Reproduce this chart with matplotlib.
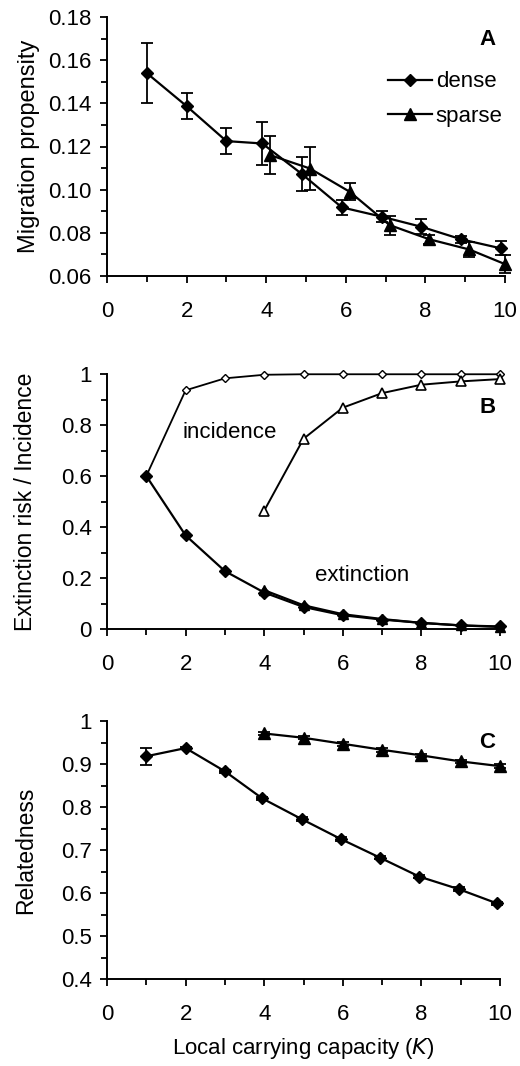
import matplotlib
matplotlib.use("Agg")
import matplotlib.pyplot as plt
from matplotlib.ticker import MultipleLocator

plt.rcParams['font.family'] = ['Liberation Sans', 'DejaVu Sans']

# ---------------- data ----------------
K = [1, 2, 3, 4, 5, 6, 7, 8, 9, 10]
K_sparse = [4, 5, 6, 7, 8, 9, 10]

# Panel A: migration propensity
A_dense_x = [1, 2, 3, 3.9, 4.9, 5.9, 6.9, 7.9, 8.9, 9.9]
A_dense = [0.154, 0.1387, 0.1225, 0.1214, 0.1072, 0.0918, 0.0875, 0.0828, 0.077, 0.0728]
A_dense_err = [0.014, 0.006, 0.006, 0.0099, 0.008, 0.0035, 0.0027, 0.0035, 0.0015, 0.0033]
A_sparse_x = [4.1, 5.1, 6.1, 7.1, 8.1, 9.1, 10.0]
A_sparse = [0.116, 0.1098, 0.099, 0.0836, 0.077, 0.0723, 0.0655]
A_sparse_err = [0.0087, 0.010, 0.004, 0.0044, 0.002, 0.0035, 0.004]

# Panel B: extinction risk / incidence
B_inc_dense = [0.600, 0.936, 0.983, 0.997, 0.999, 0.999, 0.999, 0.999, 0.999, 0.999]
B_inc_sparse = [0.464, 0.746, 0.868, 0.925, 0.958, 0.971, 0.980]
B_ext_dense = [0.600, 0.367, 0.227, 0.143, 0.0865, 0.054, 0.037, 0.024, 0.014, 0.010]
B_ext_sparse = [0.152, 0.093, 0.058, 0.039, 0.024, 0.014, 0.008]

# Panel C: relatedness
C_dense_x = [1, 2, 3, 3.95, 4.95, 5.95, 6.95, 7.95, 8.95, 9.92]
C_dense = [0.918, 0.937, 0.883, 0.820, 0.772, 0.7255, 0.682, 0.638, 0.609, 0.576]
C_dense_err = [0.02, 0.003, 0.003, 0.004, 0.004, 0.004, 0.004, 0.004, 0.004, 0.004]
C_sparse = [0.971, 0.961, 0.947, 0.933, 0.920, 0.906, 0.895]
C_sparse_err = [0.004, 0.004, 0.004, 0.004, 0.004, 0.004, 0.004]

FS = 16
fig = plt.figure(figsize=(5.2, 10.66), dpi=100)

axA = fig.add_axes([107/520, 1-276/1066, 398/520, 259/1066])
axB = fig.add_axes([107/520, 1-629/1066, 393/520, 255/1066])
axC = fig.add_axes([107/520, 1-979/1066, 393/520, 258/1066])


def style(ax, ymin, ymax, ymaj, ymin_step, fmt):
    ax.set_xlim(0, 10)
    ax.set_ylim(ymin, ymax)
    for s in ['top', 'right']:
        ax.spines[s].set_visible(False)
    for s in ['left', 'bottom']:
        ax.spines[s].set_linewidth(1.4)
    ax.xaxis.set_major_locator(MultipleLocator(2))
    ax.xaxis.set_minor_locator(MultipleLocator(1))
    ax.yaxis.set_major_locator(MultipleLocator(ymaj))
    ax.yaxis.set_minor_locator(MultipleLocator(ymin_step))
    ax.tick_params(which='major', direction='out', length=5, width=1.3, labelsize=FS)
    ax.tick_params(which='minor', direction='out', length=4, width=1.3)
    ax.tick_params(axis='x', which='major', pad=13)
    ax.tick_params(axis='y', which='major', pad=6)
    ax.yaxis.set_major_formatter(plt.FuncFormatter(fmt))


# Panel A
style(axA, 0.06, 0.18, 0.02, 0.01, lambda v, p: f"{v:.2f}")
axA.errorbar(A_dense_x, A_dense, yerr=A_dense_err, color='black', marker='D', ms=6.5,
             lw=1.6, capsize=4.5, elinewidth=1.3, capthick=1.3, label='dense', clip_on=False)
axA.errorbar(A_sparse_x, A_sparse, yerr=A_sparse_err, color='black', marker='^', ms=8.5,
             lw=1.6, capsize=4.5, elinewidth=1.3, capthick=1.3, label='sparse', clip_on=False)
axA.set_ylabel('Migration propensity', fontsize=17)
axA.yaxis.set_label_coords(-0.168, 0.5)
axA.text(0.957, 0.915, 'A', transform=axA.transAxes, fontsize=FS, fontweight='bold',
         ha='center', va='center')
h, l = axA.get_legend_handles_labels()
h = [hh[0] for hh in h]
axA.legend(h, l, loc='upper left', bbox_to_anchor=(0.706, 0.79), frameon=False, fontsize=FS,
           handlelength=2.0, handletextpad=0.15, labelspacing=0.62, borderaxespad=0, borderpad=0)

# Panel B
style(axB, 0, 1, 0.2, 0.1, lambda v, p: f"{v:g}")
axB.plot(K, B_inc_dense, color='black', marker='D', ms=4.2, mfc='white', mew=1.0, lw=1.3, clip_on=False)
axB.plot(K_sparse, B_inc_sparse, color='black', marker='^', ms=7.5, mfc='white', mew=1.2, lw=1.4, clip_on=False)
axB.plot(K, B_ext_dense, color='black', marker='D', ms=6.5, lw=1.6, clip_on=False)
axB.plot(K_sparse, B_ext_sparse, color='black', marker='^', ms=7.5, lw=1.6, clip_on=False)
axB.set_ylabel('Extinction risk / Incidence', fontsize=16.5)
axB.yaxis.set_label_coords(-0.178, 0.5)
axB.text(0.969, 0.867, 'B', transform=axB.transAxes, fontsize=FS, fontweight='bold',
         ha='center', va='center')
axB.text(3.13, 0.769, 'incidence', fontsize=FS, ha='center', va='center')
axB.text(6.49, 0.208, 'extinction', fontsize=FS, ha='center', va='center')

# Panel C
style(axC, 0.4, 1, 0.1, 0.05, lambda v, p: f"{v:g}")
axC.errorbar(C_dense_x, C_dense, yerr=C_dense_err, color='black', marker='D', ms=6.5,
             lw=1.6, capsize=4.5, elinewidth=1.3, capthick=1.3, clip_on=False)
axC.errorbar(K_sparse, C_sparse, yerr=C_sparse_err, color='black', marker='^', ms=8,
             lw=1.6, capsize=4.5, elinewidth=1.3, capthick=1.3, clip_on=False)
axC.set_ylabel('Relatedness', fontsize=16.5)
axC.yaxis.set_label_coords(-0.178, 0.5)
axC.text(0.967, 0.915, 'C', transform=axC.transAxes, fontsize=FS, fontweight='bold',
         ha='center', va='center')
axC.set_xlabel('Local carrying capacity ($\\mathit{K}$)', fontsize=FS, labelpad=8)

fig.savefig('out.png', dpi=100)
